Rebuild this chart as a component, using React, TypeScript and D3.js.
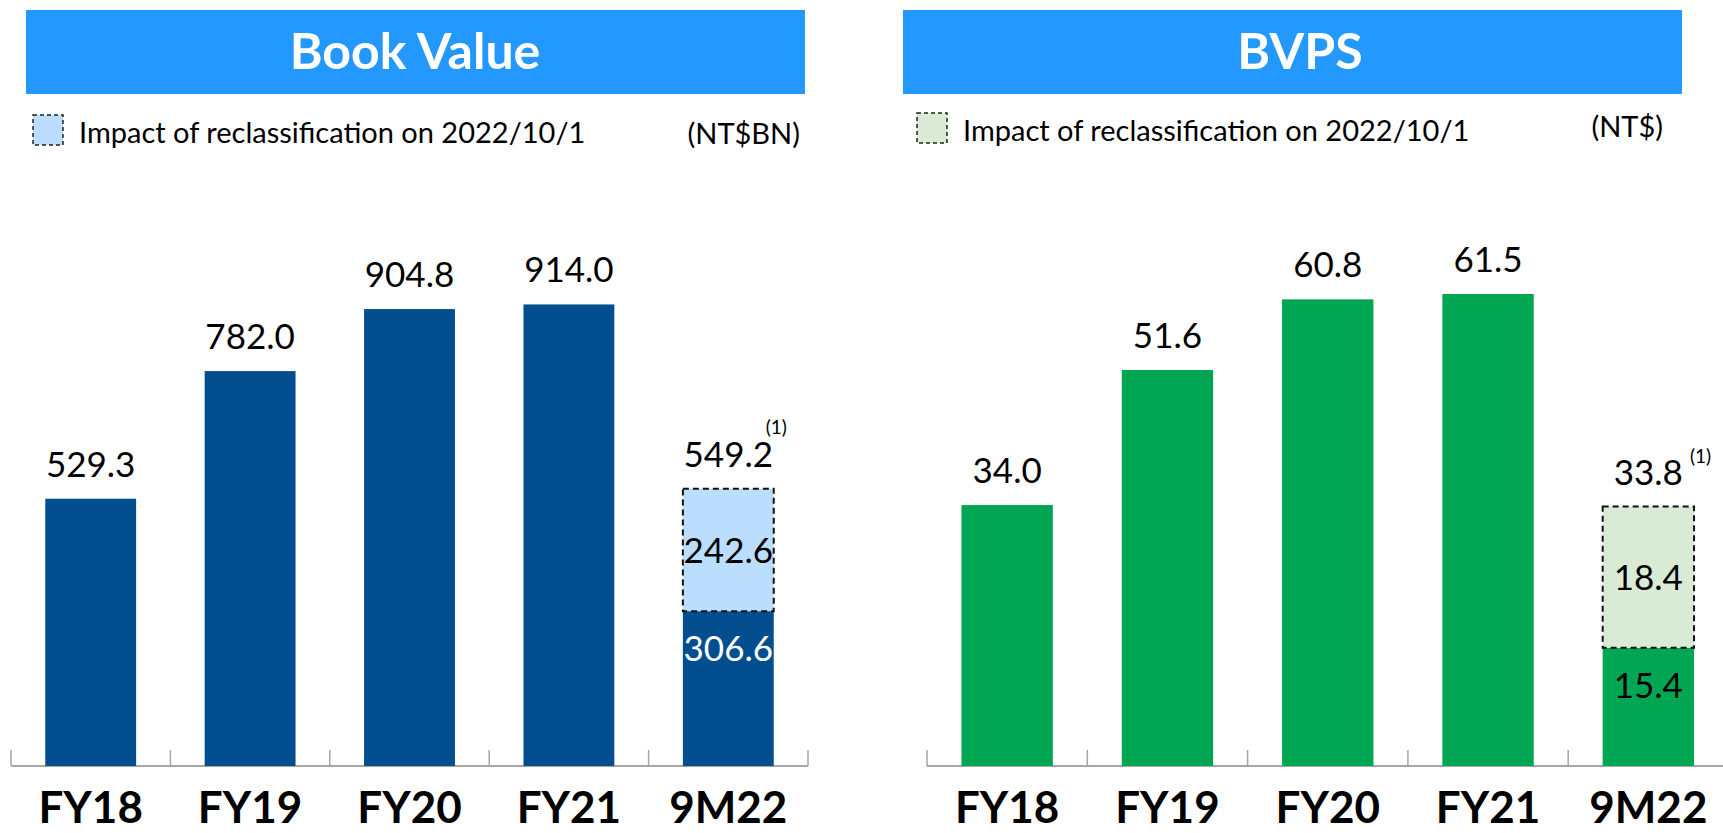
import React, { useEffect, useRef } from 'react';
import * as d3 from 'd3';

const categories = ['FY18', 'FY19', 'FY20', 'FY21', '9M22'];

// Book Value (NT$BN)
const bookBase = [529.3, 782.0, 904.8, 914.0, 306.6];
const bookImpact = [0, 0, 0, 0, 242.6];

// BVPS (NT$)
const bvpsBase = [34.0, 51.6, 60.8, 61.5, 15.4];
const bvpsImpact = [0, 0, 0, 0, 18.4];

interface PanelCfg {
  title: string;
  titleX: number;
  box: [number, number];
  unit: string;
  unitX: number;
  unitY: number;
  legendX: number;
  legendY: number;
  base: number[];
  impact: number[];
  xRange: [number, number];
  axisEnd: number;
  yMax: number;
  yTop: number;
  barColor: string;
  impactColor: string;
  innerLabelColor: string;
  supDy: number;
  supDx: number;
}

const FONT = 'Lato, "Open Sans", sans-serif';
const baseY = 766;

const panels: PanelCfg[] = [
  {
    title: 'Book Value', titleX: 415, box: [26, 805],
    unit: '(NT$BN)', unitX: 800, unitY: 144,
    legendX: 33, legendY: 115,
    base: bookBase, impact: bookImpact,
    xRange: [11, 808], axisEnd: 808,
    yMax: 1200, yTop: 160,
    barColor: '#034e8e', impactColor: '#bbdeff', innerLabelColor: '#ffffff',
    supDy: -33, supDx: -8,
  },
  {
    title: 'BVPS', titleX: 1300, box: [903, 1682],
    unit: '(NT$)', unitX: 1663, unitY: 137,
    legendX: 917, legendY: 113,
    base: bvpsBase, impact: bvpsImpact,
    xRange: [927, 1728.5], axisEnd: 1723,
    yMax: 80, yTop: 152,
    barColor: '#00a651', impactColor: '#d9ead5', innerLabelColor: '#000000',
    supDy: -22, supDx: -4,
  },
];

const App: React.FC = () => {
  const svgRef = useRef<SVGSVGElement | null>(null);

  useEffect(() => {
    if (!svgRef.current) return;
    const svg = d3.select(svgRef.current);
    svg.selectAll('*').remove();

    panels.forEach(p => {
      const g = svg.append('g');

      // header
      g.append('rect')
        .attr('x', p.box[0]).attr('y', 10)
        .attr('width', p.box[1] - p.box[0]).attr('height', 84)
        .attr('fill', '#2399ff');
      g.append('text')
        .attr('x', p.titleX).attr('y', 69)
        .attr('text-anchor', 'middle')
        .attr('font-family', FONT).attr('font-weight', 700).attr('font-size', 50)
        .attr('fill', '#fff')
        .text(p.title);

      // legend
      g.append('rect')
        .attr('x', p.legendX).attr('y', p.legendY)
        .attr('width', 30).attr('height', 30)
        .attr('fill', p.impactColor)
        .attr('stroke', '#222').attr('stroke-width', 1.5).attr('stroke-dasharray', '4,3');
      g.append('text')
        .attr('x', p.legendX + 46).attr('y', p.legendY + 28)
        .attr('font-family', FONT).attr('font-size', 29).attr('fill', '#000')
        .text('Impact of reclassification on 2022/10/1');
      g.append('text')
        .attr('x', p.unitX).attr('y', p.unitY)
        .attr('text-anchor', 'end')
        .attr('font-family', FONT).attr('font-size', 29).attr('fill', '#000')
        .text(p.unit);

      const x = d3.scaleBand<string>()
        .domain(categories)
        .range(p.xRange)
        .paddingInner(0.43)
        .paddingOuter(0.215);
      const step = x.step();
      const y = d3.scaleLinear().domain([0, p.yMax]).range([baseY, p.yTop]);

      // axis line + ticks
      g.append('line')
        .attr('x1', p.xRange[0]).attr('x2', p.axisEnd)
        .attr('y1', baseY).attr('y2', baseY)
        .attr('stroke', '#a6a6a6').attr('stroke-width', 2);
      d3.range(categories.length + 1).forEach(i => {
        const tx = p.xRange[0] + i * step;
        if (tx > 1723) return;
        g.append('line')
          .attr('x1', tx).attr('x2', tx)
          .attr('y1', baseY - 16).attr('y2', baseY)
          .attr('stroke', '#a6a6a6').attr('stroke-width', 1.5);
      });

      categories.forEach((c, i) => {
        const bx = x(c) ?? 0;
        const bw = x.bandwidth();
        const cx = bx + bw / 2;
        const base = p.base[i];
        const imp = p.impact[i];
        const total = base + imp;

        g.append('rect')
          .attr('x', bx).attr('y', y(base))
          .attr('width', bw).attr('height', baseY - y(base))
          .attr('fill', p.barColor);

        if (imp > 0) {
          g.append('rect')
            .attr('x', bx).attr('y', y(total))
            .attr('width', bw).attr('height', y(base) - y(total))
            .attr('fill', p.impactColor)
            .attr('stroke', '#111').attr('stroke-width', 2).attr('stroke-dasharray', '6,4');
          g.append('text')
            .attr('x', cx).attr('y', (y(total) + y(base)) / 2)
            .attr('dy', '0.36em')
            .attr('text-anchor', 'middle')
            .attr('font-family', FONT).attr('font-size', 35).attr('fill', '#000')
            .text(imp.toFixed(1));
          g.append('text')
            .attr('x', cx).attr('y', y(base) + 50)
            .attr('text-anchor', 'middle')
            .attr('font-family', FONT).attr('font-size', 35).attr('fill', p.innerLabelColor)
            .text(base.toFixed(1));
          g.append('text')
            .attr('x', bx + bw + p.supDx).attr('y', y(total) - 22 + p.supDy)
            .attr('font-family', FONT).attr('font-size', 19).attr('fill', '#000')
            .text('(1)');
        }

        g.append('text')
          .attr('x', cx).attr('y', y(total) - 22)
          .attr('text-anchor', 'middle')
          .attr('font-family', FONT).attr('font-size', 35).attr('fill', '#000')
          .text(total.toFixed(1));

        g.append('text')
          .attr('x', cx).attr('y', 823)
          .attr('text-anchor', 'middle')
          .attr('font-family', FONT).attr('font-weight', 700).attr('font-size', 44)
          .attr('fill', '#000')
          .text(c);
      });
    });
  }, []);

  return (
    <svg
      ref={svgRef}
      width={1723}
      height={833}
      style={{ position: 'absolute', left: 0, top: 0, background: '#fff' }}
    />
  );
};

export default App;
